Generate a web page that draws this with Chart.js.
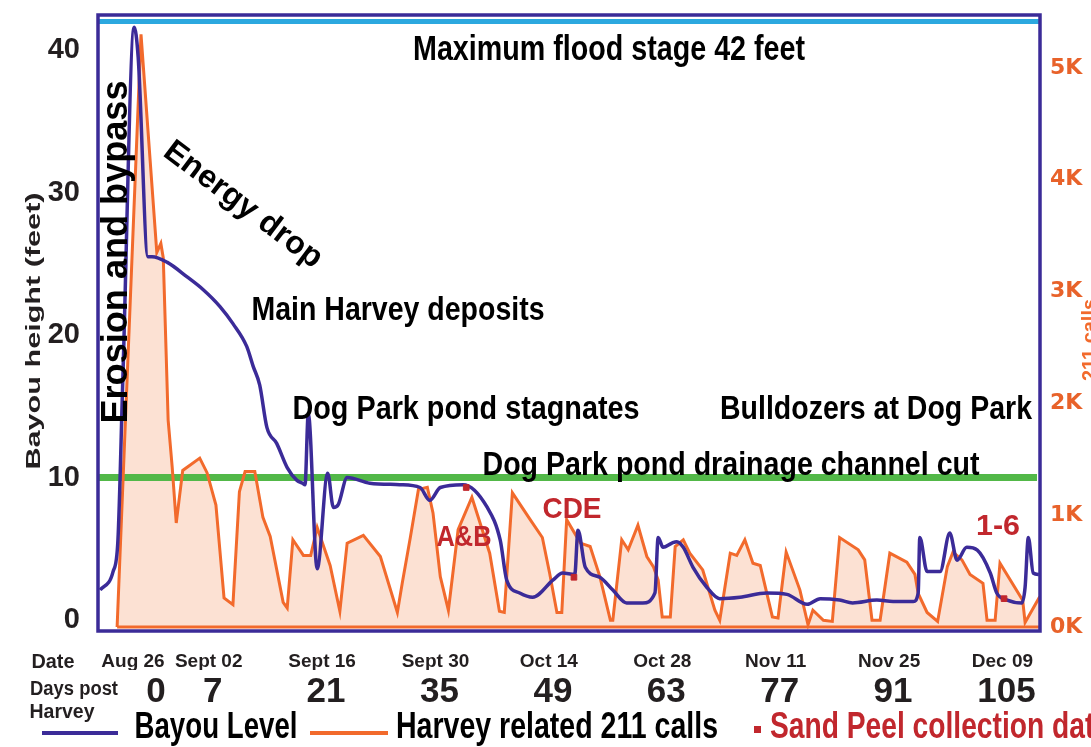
<!DOCTYPE html>
<html>
<head>
<meta charset="utf-8">
<title>Bayou level and Harvey related 211 calls</title>
<script src="https://cdn.jsdelivr.net/npm/chart.js@4.4.0/dist/chart.umd.min.js"></script>
<style>
  html, body { margin: 0; padding: 0; background: #ffffff; }
  canvas { display: block; }
</style>
</head>
<body>
<canvas id="myChart" width="1091" height="747"></canvas>
<script>
'use strict';

// DATA

let dayTicks = [0, 7, 21, 35, 49, 63, 77, 91, 105];
let dateLabels = ['Aug 26', 'Sept 02', 'Sept 16', 'Sept 30', 'Oct 14', 'Oct 28', 'Nov 11', 'Nov 25', 'Dec 09'];
let feetTicks = [0, 10, 20, 30, 40];
let callTicks = [0, 1000, 2000, 3000, 4000, 5000];

// bayou level, feet, by days post Harvey
let bayouDays = [-6.9, -5.3, -4.7, -4.1, -2.7, -2.2, -1.0, -0.5, 1.4, 3.8, 5.8, 7.9, 9.5, 11.2, 12.0,
  12.8, 13.7, 14.9, 16.2, 17.4, 18.1, 18.4, 18.8, 19.9, 21.2, 21.9, 22.5, 23.6, 26.4, 30.1,
  32.6, 33.8, 35.1, 37.9, 40.9, 42.5, 43.3, 44.9, 46.5, 49.0, 50.2, 51.7, 52.1, 53.0, 54.8,
  56.4, 58.1, 60.1, 61.6, 62.0, 62.6, 63.7, 64.3, 65.1, 66.3, 68.0, 69.6, 72.1, 75.4, 77.9,
  80.4, 82.0, 84.4, 86.0, 89.0, 91.0, 93.5, 94.1, 94.3, 95.2, 96.8, 98.0, 98.9, 100.1, 101.4,
  103.0, 103.8, 105.1, 106.9, 107.3, 107.7, 108.3, 109.0];
let bayouFeet = [2.1, 3.4, 5.6, 16.8, 41.6, 39.5, 25.5, 25.5, 25.1, 24.1, 23.2, 22.0, 20.8, 19.2, 17.8,
  16.5, 13.5, 12.4, 10.7, 9.8, 9.6, 9.5, 14.5, 3.6, 10.3, 7.9, 8.1, 10.0, 9.6, 9.5,
  9.3, 8.4, 9.3, 9.5, 7.9, 5.6, 2.8, 1.9, 1.6, 2.8, 3.3, 3.2, 6.3, 3.7, 3.0,
  2.1, 1.2, 1.2, 1.9, 5.8, 5.1, 5.4, 5.5, 5.1, 3.7, 2.3, 1.5, 1.6, 1.9, 1.8,
  1.1, 1.5, 1.4, 1.2, 1.4, 1.3, 1.3, 1.9, 5.8, 3.4, 3.4, 6.1, 4.2, 5.1, 4.9,
  3.3, 1.9, 1.4, 1.2, 2.3, 5.8, 3.3, 3.2];

// Harvey related 211 calls per day
let callDays = [-4.8, -1.85, 0.1, 0.6, 0.9, 1.5, 2.0, 2.5, 3.3, 5.4, 6.3, 7.4, 8.4, 9.5, 10.3,
  11.0, 12.2, 13.2, 14.1, 15.7, 16.2, 16.9, 18.2, 19.1, 19.9, 21.5, 22.7, 23.6, 25.6, 27.7,
  29.8, 30.4, 31.4, 32.4, 33.5, 34.2, 35.1, 36.1, 37.3, 39.0, 41.2, 42.4, 43.0, 44.0, 46.2,
  47.7, 48.6, 49.5, 50.1, 50.7, 52.4, 53.6, 54.8, 56.1, 56.4, 57.5, 58.3, 59.5, 60.6, 61.4,
  62.0, 62.5, 63.5, 64.1, 65.1, 65.9, 67.5, 69.0, 69.6, 70.9, 71.7, 72.7, 73.7, 74.6, 76.1,
  76.8, 77.8, 79.5, 80.5, 81.1, 82.4, 83.5, 84.4, 86.7, 87.5, 88.4, 89.4, 90.6, 92.7, 93.7,
  94.1, 95.2, 96.5, 97.7, 98.4, 99.5, 100.5, 102.1, 102.6, 103.6, 104.2, 107.0, 107.3, 109.1];
let callCounts = [0, 5300, 3350, 3430, 3300, 1850, 1430, 930, 1400, 1510, 1380, 1090, 260, 200, 1210,
  1390, 1390, 980, 810, 220, 170, 780, 640, 640, 890, 550, 140, 750, 820, 630,
  130, 390, 800, 1230, 1250, 1020, 450, 150, 870, 1160, 660, 140, 130, 1200, 960,
  800, 480, 130, 130, 960, 750, 720, 450, 60, 60, 780, 690, 910, 630, 540,
  420, 90, 90, 720, 780, 660, 510, 150, 60, 660, 640, 780, 570, 550, 90,
  80, 670, 330, 20, 150, 60, 50, 800, 690, 600, 60, 60, 660, 580, 470,
  300, 130, 50, 540, 670, 600, 470, 390, 60, 60, 570, 240, 40, 270];

// Sand Peel collection dates, drawn on the bayou line
let sandDays = [38.3, 51.6, 104.7];
let sandFeet = [9.3, 3.0, 1.5];

let floodStage = 42;
let drainageLevel = 10;

// COLOURS

let blue = '#3b2b98';
let orange = '#f26a2c';
let red = '#c1272d';
let textDark = '#231f20';

function toPoints(xs, ys) {
  let pts = [];
  for (let i = 0; i < xs.length; i++) {
    pts.push({ x: xs[i], y: ys[i] });
  }
  return pts;
}

// draw bold text squeezed or stretched to a given width
function drawFitText(ctx, text, cx, cy, size, width, color, angle) {
  ctx.save();
  ctx.font = 'bold ' + size + 'px "Liberation Sans", Arial, sans-serif';
  let natural = ctx.measureText(text).width;
  ctx.translate(cx, cy);
  ctx.rotate((angle || 0) * Math.PI / 180);
  ctx.scale(width / natural, 1);
  ctx.textAlign = 'center';
  ctx.textBaseline = 'middle';
  ctx.fillStyle = color;
  ctx.fillText(text, 0, 0);
  ctx.restore();
}

function hLine(ctx, x1, x2, y, color, w) {
  ctx.save();
  ctx.strokeStyle = color;
  ctx.lineWidth = w;
  ctx.beginPath();
  ctx.moveTo(x1, y);
  ctx.lineTo(x2, y);
  ctx.stroke();
  ctx.restore();
}

// keep the axes from pushing the plot area around
function noPadding(s) {
  s.paddingTop = 0;
  s.paddingBottom = 0;
  s.paddingLeft = 0;
  s.paddingRight = 0;
}

let decorPlugin = {
  id: 'decor',
  beforeDatasetsDraw(chart) {
    let ctx = chart.ctx;
    let area = chart.chartArea;
    let y = chart.scales.y;
    hLine(ctx, area.left, area.right, y.getPixelForValue(floodStage), '#2ca8df', 5);
    hLine(ctx, area.left, area.right - 3, y.getPixelForValue(drainageLevel), '#52b848', 7);
  },
  afterDatasetsDraw(chart) {
    let ctx = chart.ctx;
    let area = chart.chartArea;
    let x = chart.scales.x;
    let y1 = chart.scales.y1;

    // orange base of the calls area
    hLine(ctx, x.getPixelForValue(callDays[0]), x.getPixelForValue(callDays[callDays.length - 1]),
      y1.getPixelForValue(0), orange, 3);

    // plot frame
    ctx.save();
    ctx.strokeStyle = blue;
    ctx.lineWidth = 3.5;
    ctx.strokeRect(area.left, area.top, area.right - area.left, area.bottom - area.top + 1);
    ctx.restore();

    // annotations
    drawFitText(ctx, 'Maximum flood stage 42 feet', 609, 50, 35, 392, '#000');
    drawFitText(ctx, 'Erosion and bypass', 117, 252, 36, 343, '#000', -90);
    drawFitText(ctx, 'Energy drop', 243, 205, 32, 190, '#000', 37);
    drawFitText(ctx, 'Main Harvey deposits', 398, 311, 34, 293, '#000');
    drawFitText(ctx, 'Dog Park pond stagnates', 466, 410, 34, 347, '#000');
    drawFitText(ctx, 'Bulldozers at Dog Park', 876, 410, 34, 312, '#000');
    drawFitText(ctx, 'Dog Park pond drainage channel cut', 731, 466, 34, 497, '#000');
    drawFitText(ctx, 'A&B', 464, 538, 30, 55, red);
    drawFitText(ctx, 'CDE', 572, 510, 30, 59, red);
    drawFitText(ctx, '1-6', 998, 527, 30, 44, red);

    // axis titles
    drawFitText(ctx, 'Bayou height (feet)', 34, 331, 21, 277, textDark, -90);
    drawFitText(ctx, '211 calls', 1090, 340, 20, 82, orange, -90);

    // row labels under the axis
    drawFitText(ctx, 'Date', 53, 662, 20, 43, textDark);
    drawFitText(ctx, 'Days post', 74, 689, 20, 88, textDark);
    drawFitText(ctx, 'Harvey', 62, 712, 20, 65, textDark);

    // legend
    hLine(ctx, 42, 118, 733, blue, 4);
    drawFitText(ctx, 'Bayou Level', 216, 728, 36, 163, '#000');
    hLine(ctx, 310, 388, 733, orange, 4);
    drawFitText(ctx, 'Harvey related 211 calls', 557, 728, 36, 322, '#000');
    ctx.save();
    ctx.fillStyle = red;
    ctx.fillRect(754, 726, 7, 7);
    ctx.restore();
    drawFitText(ctx, 'Sand Peel collection date', 940, 728, 36, 340, red);
  }
};

let baseFont = '"Liberation Sans", Arial, sans-serif';

let data = {
  datasets: [
    {
      label: 'Sand Peel collection date',
      data: toPoints(sandDays, sandFeet),
      yAxisID: 'y',
      showLine: false,
      pointStyle: 'rect',
      pointRadius: 4,
      backgroundColor: red,
      borderColor: red
    },
    {
      label: 'Bayou Level',
      data: toPoints(bayouDays, bayouFeet),
      yAxisID: 'y',
      borderColor: blue,
      borderWidth: 3.5,
      pointRadius: 0,
      cubicInterpolationMode: 'monotone',
      fill: false
    },
    {
      label: 'Harvey related 211 calls',
      data: toPoints(callDays, callCounts),
      yAxisID: 'y1',
      borderColor: orange,
      borderWidth: 3,
      pointRadius: 0,
      tension: 0,
      fill: 'origin',
      backgroundColor: 'rgba(248, 176, 140, 0.38)'
    }
  ]
};

let config = {
  type: 'line',
  data: data,
  options: {
    responsive: false,
    animation: false,
    devicePixelRatio: 1,
    layout: { padding: { top: 15, bottom: 41, left: 0, right: 0 } },
    plugins: {
      legend: { display: false },
      tooltip: { enabled: false },
      filler: { drawTime: 'beforeDatasetsDraw' }
    },
    scales: {
      x: {
        type: 'linear',
        position: 'bottom',
        min: -7.16,
        max: 109.14,
        grid: { display: false, drawTicks: false },
        border: { display: false },
        afterBuildTicks: (s) => { s.ticks = dayTicks.map(v => ({ value: v })); },
        afterFit: (s) => { s.height = 40; noPadding(s); },
        ticks: {
          autoSkip: false,
          maxRotation: 0,
          padding: 20,
          labelOffset: -4,
          color: textDark,
          font: { family: baseFont, size: 19, weight: 'bold' },
          // the first date sits a little left of its day number
          callback: (v, i) => dateLabels[i] + (i === 0 ? '\u2003\u2003' : '')
        }
      },
      x2: {
        type: 'linear',
        axis: 'x',
        position: 'bottom',
        min: -7.16,
        max: 109.14,
        grid: { display: false, drawTicks: false },
        border: { display: false },
        afterBuildTicks: (s) => { s.ticks = dayTicks.map(v => ({ value: v })); },
        afterFit: (s) => { s.height = 36; noPadding(s); },
        ticks: {
          autoSkip: false,
          maxRotation: 0,
          padding: 1,
          color: textDark,
          font: { family: baseFont, size: 35, weight: 'bold' },
          callback: (v, i) => String(dayTicks[i])
        }
      },
      y: {
        position: 'left',
        min: -0.7,
        max: 42.46,
        grid: { display: false, drawTicks: false },
        border: { display: false },
        afterBuildTicks: (s) => { s.ticks = feetTicks.map(v => ({ value: v })); },
        afterFit: (s) => { s.width = 98; noPadding(s); },
        ticks: {
          padding: 18,
          color: textDark,
          font: { family: baseFont, size: 29, weight: 'bold' }
        }
      },
      y1: {
        position: 'right',
        min: -27,
        max: 5473,
        grid: { display: false, drawTicks: false },
        border: { display: false },
        afterBuildTicks: (s) => { s.ticks = callTicks.map(v => ({ value: v })); },
        afterFit: (s) => { s.width = 51; noPadding(s); },
        ticks: {
          padding: 10,
          color: '#e8622a',
          font: { family: '"DejaVu Sans", sans-serif', size: 22, weight: 'bold' },
          callback: (v) => (v / 1000) + 'K'
        }
      }
    }
  },
  plugins: [decorPlugin]
};

let canvas = document.getElementById('myChart').getContext('2d');
new Chart(canvas, config);
</script>
</body>
</html>
